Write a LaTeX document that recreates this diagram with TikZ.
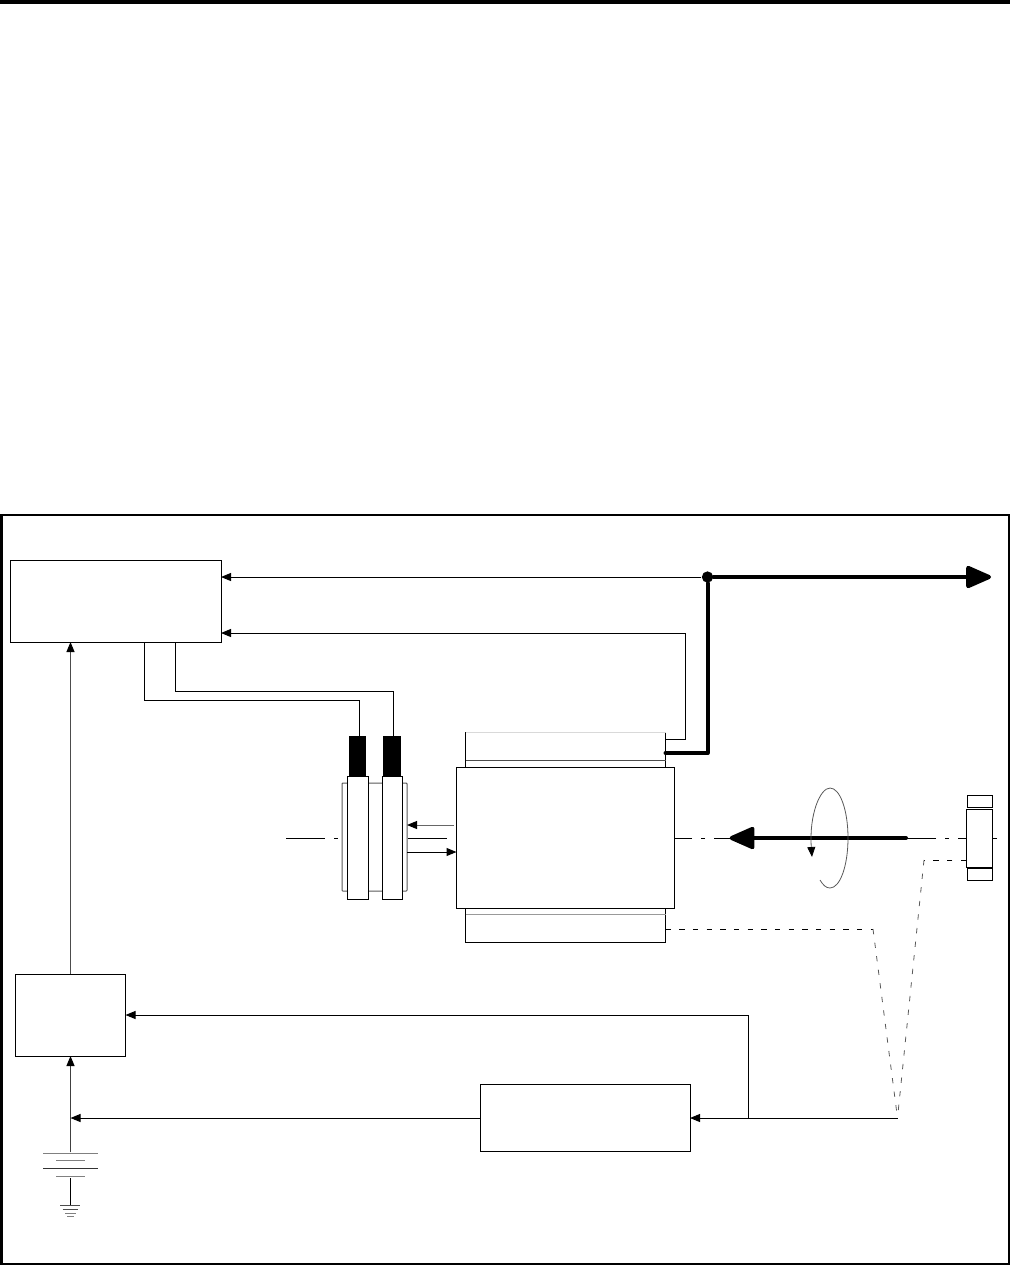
\documentclass[tikz,border=0pt]{standalone}
\usetikzlibrary{arrows.meta}

\begin{document}
\begin{tikzpicture}[x=0.75pt,y=-0.75pt,>={Triangle[length=7.5pt,width=6pt,black]},line width=0.75pt,
  box/.style={draw,fill=white,inner sep=0pt,outer sep=0pt},
  darkblock/.style={box,fill=black},
  dotmark/.style={circle,fill=black,inner sep=0pt,minimum size=8.5pt},
  power/.style={line width=3pt,line cap=round,line join=round},
  powertip/.style={-{Triangle[length=21pt,width=17.5pt,round]}},
  axisline/.style={line width=0.7pt,dash pattern=on 29.25pt off 6.75pt on 3pt off 6.75pt},
  sensorline/.style={dash pattern=on 4pt off 6.25pt},
  faint/.style={draw=black!65,line width=0.6pt}]
  \useasboundingbox (0,0) rectangle (1010,1265);
  \draw[line width=3pt] (0,2) -- (1010,2);
  \draw[line width=1.5pt] (1.5,514.5) rectangle (1008.5,1263.5);

  % shaft lines first, the machines sit on top
  \draw[axisline] (286,838) -- (447,838);
  \draw[axisline] (997,838) -- (675,838);

  % controller and rectifier
  \node[box,minimum width=158.25pt,minimum height=61.5pt] (ctrl) at (115.5,601) {};
  \node[box,minimum width=82.5pt,minimum height=61.5pt] (conv) at (70.5,1015) {};
  \node[box,minimum width=157.5pt,minimum height=50.25pt] (sens) at (585,1117.5) {};

  % exciter
  \node[box,draw=black!65,rounded corners=0.6pt,minimum width=48.75pt,minimum height=81pt] (rotor) at (374.5,837) {};
  \node[darkblock,minimum width=12pt,minimum height=30pt] (brA) at (357,756) {};
  \node[darkblock,minimum width=12.75pt,minimum height=30pt] (brB) at (391.5,756) {};
  \node[box,minimum width=15.75pt,minimum height=92.25pt] (ringA) at (357.5,837.5) {};
  \node[box,minimum width=15pt,minimum height=92.25pt] (ringB) at (392,837.5) {};

  % generator
  \node[box,minimum width=150pt,minimum height=26.25pt] (genT) at (565.5,749.5) {};
  \draw[black!15] (genT.north west) -- (genT.north east);
  \draw[black!70] (genT.west |- 0,760) -- (genT.east |- 0,760);
  \node[box,minimum width=150pt,minimum height=26pt] (genB) at (565.5,925) {};
  \draw[black!40] (genB.west |- 0,914) -- (genB.east |- 0,914);
  \node[box,minimum width=163.5pt,minimum height=105.75pt] (gen) at (565.5,837.5) {};

  % speed pick-up on the turbine side
  \node[box,minimum width=18.75pt,minimum height=9pt] (cpT) at (979.5,801) {};
  \node[box,minimum width=18.75pt,minimum height=9pt] (cpB) at (979.5,874) {};
  \node[box,minimum width=19.5pt,minimum height=43.5pt] (cp) at (979,838) {};

  % output bus
  \node[dotmark] (joint) at (707.5,577) {};
  \coordinate (busturn) at (707.5,753);
  \coordinate (busend) at (991,577);
  \draw[power] (genT.east |- busturn) -- (busturn) -- (joint);
  \draw[power,powertip] (joint) -- (busend);
  \draw[->] (joint) -- (ctrl.east |- joint);
  \coordinate (fbturn) at (685.5,739);
  \draw[->] (genT.east |- fbturn) -- (fbturn) -- (fbturn |- 0,633) -- (ctrl.east |- 0,633);

  % field leads
  \coordinate (leadA) at (359,700);
  \coordinate (leadB) at (393,691.5);
  \draw (ctrl.south -| 144.5,0) -- (144.5,700) -- (leadA) -- (leadA |- brA.north);
  \draw (ctrl.south -| 175,0) -- (175,691.5) -- (leadB) -- (leadB |- brB.north);

  % between exciter and generator
  \draw[->,black!60] (gen.west |- 0,825) ++(-3,0) -- (rotor.east |- 0,825);
  \draw[->] (rotor.east |- 0,852) -- (gen.west |- 0,852);

  % torque and rotation
  \coordinate (torqueend) at (906,838);
  \node[inner sep=0pt,outer sep=0pt] (torquetip) at (729,838) {};
  \draw[power,powertip] (torqueend) -- (torquetip);
  \coordinate (spinA) at (812,857);
  \coordinate (spinB) at (820,880);
  \draw[<-,faint] (spinA) .. controls (809,815) and (820,788) .. (830,788)
    .. controls (840,788) and (848,810) .. (848,838)
    .. controls (848,866) and (840,888) .. (830,888)
    .. controls (826,888) and (823,885) .. (spinB);

  % speed sensing
  \coordinate (sensjoin) at (897.5,1118);
  \coordinate (sensA) at (873,929);
  \coordinate (sensB) at (924,860);
  \draw[sensorline] (genB.east |- sensA) -- (sensA);
  \draw[sensorline,faint] (sensA) -- (sensjoin);
  \draw[sensorline] (cp.west |- sensB) -- (sensB);
  \draw[sensorline,faint] (sensB) -- (sensjoin);
  \draw[->] (sensjoin) -- (sens.east |- sensjoin);
  \coordinate (tapturn) at (748.5,1015);
  \draw[->] (tapturn |- sensjoin) -- (tapturn) -- (conv.east |- tapturn);

  % supply side
  \node[inner sep=0pt,outer sep=0pt] (batt) at (70.5,1153) {};
  \draw[->,black!70] (conv.north) -- (ctrl.south -| conv.north);
  \draw[->,black!75] (batt) -- (conv.south);
  \draw[->] (sens.west |- 0,1118) -- (batt |- 0,1118);
  \draw[black!50] (43,1153) -- (98,1153);
  \draw[black!50] (56,1160.5) -- (85,1160.5);
  \draw[black!80] (43,1168.5) -- (98,1168.5);
  \draw[black!50] (56,1176) -- (85,1176);
  \coordinate (gnd) at (70.5,1205);
  \draw (70.5,1178) -- (gnd);
  \draw[black!70] (60,1205) -- (80,1205);
  \draw[black!70] (62.5,1209) -- (78,1209);
  \draw[black!50] (65,1213) -- (76,1213);
  \draw[black!50] (67,1216.5) -- (74,1216.5);
\end{tikzpicture}
\end{document}
